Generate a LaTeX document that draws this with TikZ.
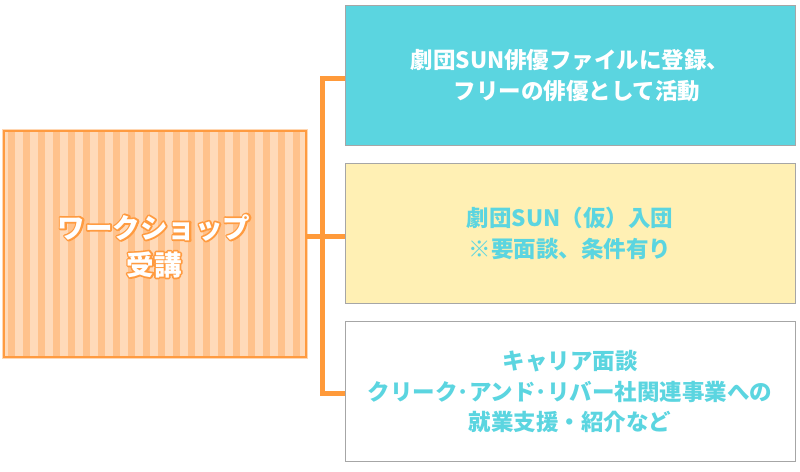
\documentclass[tikz,border=0pt]{standalone}
\usepackage{fontspec}
\setmainfont{Noto Sans CJK JP}
\definecolor{cyanC}{HTML}{5BD5E0}
\definecolor{yellowC}{HTML}{FFF0B4}
\definecolor{grayB}{HTML}{A6A6A6}
\definecolor{lightS}{HTML}{FFDAB9}
\definecolor{darkS}{HTML}{FFC28C}
\definecolor{orangeB}{HTML}{FF9B40}
\definecolor{connC}{HTML}{FF9A3A}
\newcommand{\strokedtext}[1]{\special{pdf:literal direct 1 Tr 3.4 w 1 j 1 J}#1\special{pdf:literal direct 0 Tr}}
\tikzset{
  rbox/.style={draw=grayB, line width=1pt, minimum width=450pt, minimum height=140pt,
    align=center, inner sep=0pt, font=\bfseries\fontsize{22.5}{30.5}\selectfont},
  conn/.style={draw=connC, line width=5pt},
  lbox/.style={minimum width=302pt, minimum height=226pt, inner sep=0pt},
  ltext/.style={align=center, font=\bfseries\fontsize{27.5}{37}\selectfont}
}
\begin{document}
\begin{tikzpicture}[x=1pt,y=-1pt]
\useasboundingbox (0,0) rectangle (800,471);
\fill[white] (0,0) rectangle (800,471);
% left box
\node[lbox] (ws) at (155,244) {};
\begin{scope}
  \clip (ws.north west) rectangle (ws.south east);
  \fill[lightS] (ws.north west) rectangle (ws.south east);
  \foreach \i in {0,...,20} {
    \fill[darkS] (\i*15+7.5,131) rectangle (\i*15+15,357);
  }
\end{scope}
\draw[draw=orangeB!40, line width=1pt] ([shift={(-1.5pt,1.5pt)}]ws.north west) rectangle ([shift={(1.5pt,-1.5pt)}]ws.south east);
\draw[draw=orangeB, line width=2pt] (ws.north west) rectangle (ws.south east);
\node[ltext, text=orangeB] (wso) at (154,246) {\strokedtext{ワークショップ}\\\strokedtext{受講}};
\node[ltext, text=white] (wst) at (wso.center) {ワークショップ\\受講};
% right boxes
\node[rbox, fill=cyanC, text=white] (top) at (570,75.5) {劇団SUN俳優ファイルに登録、\\\hspace*{14pt}フリーの俳優として活動};
\node[rbox, fill=yellowC, text=cyanC] (mid) at (570,233.5) {劇団SUN（仮）入団\\※要面談、条件有り};
\node[rbox, fill=white, text=cyanC] (bot) at (570,391.5) {キャリア面談\\クリーク･アンド･リバー社関連事業への\\就業支援・紹介など};
% connectors
\coordinate (j) at (322.5,236.5);
\draw[conn] ([yshift=-3pt]top.west) -| (j);
\draw[conn] ([yshift=-2pt]bot.west) -| (j);
\draw[conn] (ws.east |- j) -- (mid.west |- j);
\end{tikzpicture}
\end{document}
